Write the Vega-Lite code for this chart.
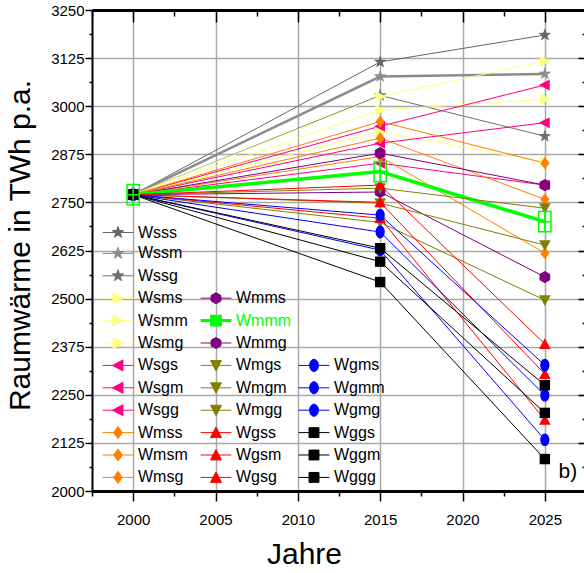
{
  "$schema": "https://vega.github.io/schema/vega-lite/v6.json",
  "width": 494,
  "height": 481,
  "autosize": {"type": "none"},
  "padding": {"left": 92, "top": 10, "right": 0, "bottom": 82},
  "config": {"font": "Liberation Sans", "view": {"stroke": null}, "point": {"filled": true, "opacity": 1, "size": 150, "strokeWidth": 0}},
  "datasets": {
    "main": [
      {"s":"Wsss","j":2000,"v":2770},{"s":"Wsss","j":2015,"v":3115},{"s":"Wsss","j":2025,"v":3185},
      {"s":"Wssm","j":2000,"v":2770},{"s":"Wssm","j":2015,"v":3077},{"s":"Wssm","j":2025,"v":3084},
      {"s":"Wssg","j":2000,"v":2770},{"s":"Wssg","j":2015,"v":3028},{"s":"Wssg","j":2025,"v":2922},
      {"s":"Wsms","j":2000,"v":2770},{"s":"Wsms","j":2015,"v":3025},{"s":"Wsms","j":2025,"v":3117},
      {"s":"Wsmm","j":2000,"v":2770},{"s":"Wsmm","j":2015,"v":2990},{"s":"Wsmm","j":2025,"v":3018},
      {"s":"Wsmg","j":2000,"v":2770},{"s":"Wsmg","j":2015,"v":2934},{"s":"Wsmg","j":2025,"v":2855},
      {"s":"Wsgs","j":2000,"v":2770},{"s":"Wsgs","j":2015,"v":2948},{"s":"Wsgs","j":2025,"v":3055},
      {"s":"Wsgm","j":2000,"v":2770},{"s":"Wsgm","j":2015,"v":2904},{"s":"Wsgm","j":2025,"v":2957},
      {"s":"Wsgg","j":2000,"v":2770},{"s":"Wsgg","j":2015,"v":2852},{"s":"Wsgg","j":2025,"v":2795},
      {"s":"Wmss","j":2000,"v":2770},{"s":"Wmss","j":2015,"v":2960},{"s":"Wmss","j":2025,"v":2852},
      {"s":"Wmsm","j":2000,"v":2770},{"s":"Wmsm","j":2015,"v":2917},{"s":"Wmsm","j":2025,"v":2758},
      {"s":"Wmsg","j":2000,"v":2770},{"s":"Wmsg","j":2015,"v":2869},{"s":"Wmsg","j":2025,"v":2618},
      {"s":"Wmms","j":2000,"v":2770},{"s":"Wmms","j":2015,"v":2878},{"s":"Wmms","j":2025,"v":2795},
      {"s":"Wmmm","j":2000,"v":2770},{"s":"Wmmm","j":2015,"v":2830},{"s":"Wmmm","j":2025,"v":2700},
      {"s":"Wmmg","j":2000,"v":2770},{"s":"Wmmg","j":2015,"v":2777},{"s":"Wmmg","j":2025,"v":2556},
      {"s":"Wmgs","j":2000,"v":2770},{"s":"Wmgs","j":2015,"v":2787},{"s":"Wmgs","j":2025,"v":2735},
      {"s":"Wmgm","j":2000,"v":2770},{"s":"Wmgm","j":2015,"v":2748},{"s":"Wmgm","j":2025,"v":2639},
      {"s":"Wmgg","j":2000,"v":2770},{"s":"Wmgg","j":2015,"v":2698},{"s":"Wmgg","j":2025,"v":2496},
      {"s":"Wgss","j":2000,"v":2770},{"s":"Wgss","j":2015,"v":2795},{"s":"Wgss","j":2025,"v":2382},
      {"s":"Wgsm","j":2000,"v":2770},{"s":"Wgsm","j":2015,"v":2750},{"s":"Wgsm","j":2025,"v":2304},
      {"s":"Wgsg","j":2000,"v":2770},{"s":"Wgsg","j":2015,"v":2709},{"s":"Wgsg","j":2025,"v":2185},
      {"s":"Wgms","j":2000,"v":2770},{"s":"Wgms","j":2015,"v":2717},{"s":"Wgms","j":2025,"v":2327},
      {"s":"Wgmm","j":2000,"v":2770},{"s":"Wgmm","j":2015,"v":2673},{"s":"Wgmm","j":2025,"v":2249},
      {"s":"Wgmg","j":2000,"v":2770},{"s":"Wgmg","j":2015,"v":2626},{"s":"Wgmg","j":2025,"v":2133},
      {"s":"Wggs","j":2000,"v":2770},{"s":"Wggs","j":2015,"v":2631},{"s":"Wggs","j":2025,"v":2275},
      {"s":"Wggm","j":2000,"v":2770},{"s":"Wggm","j":2015,"v":2596},{"s":"Wggm","j":2025,"v":2203},
      {"s":"Wggg","j":2000,"v":2770},{"s":"Wggg","j":2015,"v":2543},{"s":"Wggg","j":2025,"v":2083}
    ],
    "note": [{"t":"b)","j":2026.4,"v":2049}]
  },
  "data": {"name": "main"},
  "resolve": {"axis": {"x": "independent", "y": "independent"}},
  "layer": [
    {
      "mark": {"type": "line"},
      "encoding": {
        "x": {"field": "j", "type": "quantitative",
          "scale": {"domain": [1997.5, 2027.5], "nice": false, "zero": false},
          "axis": {"orient": "bottom", "title": "Jahre", "titleFontSize": 30, "titleFontWeight": "normal", "titleColor": "black",
            "titleX": 212, "titleY": 72, "titleBaseline": "alphabetic", "titleAlign": "center",
            "values": [1997.5,2000,2002.5,2005,2007.5,2010,2012.5,2015,2017.5,2020,2022.5,2025,2027.5],
            "format": "d", "labelExpr": "datum.value % 5 === 0 ? datum.label : ''",
            "labelFontSize": 15, "labelColor": "black", "labelPadding": 11, "labelFlush": false, "labelOverlap": false,
            "tickSize": {"condition": {"test": "datum.value % 5 === 0", "value": 10}, "value": 5},
            "tickColor": "black", "tickWidth": 1.5,
            "domainColor": "black", "domainWidth": 3,
            "grid": true, "gridColor": "#a8a8a8", "gridWidth": 1.5,
            "gridOpacity": {"condition": {"test": "datum.value % 5 === 0 && datum.value > 1998 && datum.value < 2027", "value": 1}, "value": 0}}},
        "y": {"field": "v", "type": "quantitative",
          "scale": {"domain": [2000, 3250], "nice": false, "zero": false},
          "axis": {"orient": "left", "title": "Raumwärme in TWh p.a.", "titleFontSize": 30, "titleFontWeight": "normal", "titleColor": "black",
            "titleX": -72, "titleY": 235, "titleBaseline": "middle", "titleAlign": "center", "titleAngle": -90,
            "values": [2000,2062.5,2125,2187.5,2250,2312.5,2375,2437.5,2500,2562.5,2625,2687.5,2750,2812.5,2875,2937.5,3000,3062.5,3125,3187.5,3250],
            "format": "d", "labelExpr": "(datum.value - 2000) % 125 === 0 ? datum.label : ''",
            "labelFontSize": 15, "labelColor": "black", "labelPadding": 1, "labelFlush": false, "labelOverlap": false,
            "tickSize": {"condition": {"test": "(datum.value - 2000) % 125 === 0", "value": 7}, "value": 3},
            "tickColor": "black", "tickWidth": 1.5,
            "domainColor": "black", "domainWidth": 2,
            "grid": true, "gridColor": "#a8a8a8", "gridWidth": 1.5,
            "gridOpacity": {"condition": {"test": "(datum.value - 2000) % 125 === 0 && datum.value > 2001 && datum.value < 3249", "value": 1}, "value": 0}}},
        "detail": {"field": "s"},
        "color": {"field": "s", "type": "nominal",
          "scale": {
            "domain": ["Wsss","Wssm","Wssg","Wsms","Wsmm","Wsmg","Wsgs","Wsgm","Wsgg","Wmss","Wmsm","Wmsg","_1","_2","_3","Wmms","Wmmm","Wmmg","Wmgs","Wmgm","Wmgg","Wgss","Wgsm","Wgsg","_4","_5","_6","_7","_8","_9","Wgms","Wgmm","Wgmg","Wggs","Wggm","Wggg"],
            "range": ["#666666","#8c8c8c","#707070","#ffff80","#ffff80","#ffff80","#ff0080","#ff0080","#ff0080","#ff8000","#ff8000","#ff8000","transparent","transparent","transparent","#800080","#00ff00","#800080","#808000","#808000","#808000","#ff0000","#ff0000","#ff0000","transparent","transparent","transparent","transparent","transparent","transparent","#0000ff","#0000ff","#0000ff","#000000","#000000","#000000"]},
          "legend": {
            "orient": "none", "legendX": 18, "legendY": 213, "title": null, "columns": 3, "gridAlign": "all",
            "symbolSize": 484, "symbolLimit": 0, "labelFont": "Liberation Sans", "labelFontSize": 16, "labelOffset": 12,
            "rowPadding": 0.4, "columnPadding": 0, "padding": 0, "labelLimit": 200,
            "labelExpr": "substring(datum.label, 0, 1) === '_' ? '' : datum.label",
            "encode": {
              "symbols": {"update": {
                "shape": {"signal": "datum.value === 'Wmmm' ? 'M-1.4,0H1.4M-0.4,-0.4H0.4V0.4H-0.4Z' : (({'Wss':'M-1.4,0H1.4M0,-0.55L0.13,-0.18L0.52,-0.17L0.21,0.07L0.32,0.44L0,0.22L-0.32,0.44L-0.21,0.07L-0.52,-0.17L-0.13,-0.18Z','Wsm':'M-1.4,0H1.4M0.5,0L-0.45,-0.5L-0.45,0.5Z','Wsg':'M-1.4,0H1.4M-0.5,0L0.45,-0.5L0.45,0.5Z','Wms':'M-1.4,0H1.4M0,-0.55L0.4,0L0,0.55L-0.4,0Z','Wmm':'M-1.4,0H1.4M0,-0.5L0.45,-0.25L0.45,0.25L0,0.5L-0.45,0.25L-0.45,-0.25Z','Wmg':'M-1.4,0H1.4M-0.5,-0.45L0.5,-0.45L0,0.5Z','Wgs':'M-1.4,0H1.4M-0.5,0.45L0.5,0.45L0,-0.5Z','Wgm':'M-1.4,0H1.4M0,-0.55A0.4,0.55 0 1,1 0,0.55A0.4,0.55 0 1,1 0,-0.55Z','Wgg':'M-1.4,0H1.4M-0.45,-0.45H0.45V0.45H-0.45Z'})[substring(datum.value, 0, 3)] || 'M-1.4,0H1.4')"},
                "fill": {"signal": "datum.value === 'Wmmm' ? 'transparent' : scale('color', datum.value)"},
                "stroke": {"signal": "scale('color', datum.value)"},
                "strokeWidth": {"signal": "datum.value === 'Wmmm' ? 3 : 1"},
                "opacity": {"value": 1}
              }},
              "labels": {"update": {"fill": {"signal": "datum.value === 'Wmmm' ? '#00ff00' : 'black'"}}}
            }
          }},
        "strokeWidth": {"condition": [{"test": "datum.s === 'Wmmm'", "value": 3.5}, {"test": "datum.s === 'Wssm'", "value": 2.5}], "value": 1}
      }
    },
    {
      "transform": [{"filter": "substring(datum.s, 0, 3) === 'Wss'"}],
      "mark": {"type": "point", "shape": "M0,-1.1L0.26,-0.36L1.05,-0.34L0.42,0.14L0.65,0.89L0,0.44L-0.65,0.89L-0.42,0.14L-1.05,-0.34L-0.26,-0.36Z"},
      "encoding": {
        "x": {"field": "j", "type": "quantitative",
          "axis": {"orient": "top", "title": null, "labels": false, "grid": false,
            "values": [1997.5,2000,2002.5,2005,2007.5,2010,2012.5,2015,2017.5,2020,2022.5,2025,2027.5],
            "tickSize": {"condition": {"test": "datum.value % 5 === 0", "value": -12}, "value": -6},
            "tickColor": "black", "tickWidth": 1.5, "domainColor": "black", "domainWidth": 3}},
        "y": {"field": "v", "type": "quantitative",
          "axis": {"orient": "right", "title": null, "labels": false, "grid": false,
            "values": [2000,2062.5,2125,2187.5,2250,2312.5,2375,2437.5,2500,2562.5,2625,2687.5,2750,2812.5,2875,2937.5,3000,3062.5,3125,3187.5,3250],
            "tickSize": {"condition": {"test": "(datum.value - 2000) % 125 === 0", "value": -8}, "value": -4},
            "tickColor": "black", "tickWidth": 1.5, "domainColor": "black", "domainWidth": 2}},
        "color": {"field": "s", "type": "nominal", "legend": null}
      }
    },
    {
      "transform": [{"filter": "substring(datum.s, 0, 3) === 'Wsm'"}],
      "mark": {"type": "point", "shape": "M1,0L-0.8,-0.9L-0.8,0.9Z"},
      "encoding": {"x": {"field": "j", "type": "quantitative", "axis": null}, "y": {"field": "v", "type": "quantitative", "axis": null}, "color": {"field": "s", "type": "nominal", "legend": null}}
    },
    {
      "transform": [{"filter": "substring(datum.s, 0, 3) === 'Wsg'"}],
      "mark": {"type": "point", "shape": "M-1,0L0.8,-0.9L0.8,0.9Z"},
      "encoding": {"x": {"field": "j", "type": "quantitative", "axis": null}, "y": {"field": "v", "type": "quantitative", "axis": null}, "color": {"field": "s", "type": "nominal", "legend": null}}
    },
    {
      "transform": [{"filter": "substring(datum.s, 0, 3) === 'Wms'"}],
      "mark": {"type": "point", "shape": "M0,-1L0.75,0L0,1L-0.75,0Z"},
      "encoding": {"x": {"field": "j", "type": "quantitative", "axis": null}, "y": {"field": "v", "type": "quantitative", "axis": null}, "color": {"field": "s", "type": "nominal", "legend": null}}
    },
    {
      "transform": [{"filter": "datum.s === 'Wmms' || datum.s === 'Wmmg'"}],
      "mark": {"type": "point", "shape": "M0,-1L0.87,-0.5L0.87,0.5L0,1L-0.87,0.5L-0.87,-0.5Z"},
      "encoding": {"x": {"field": "j", "type": "quantitative", "axis": null}, "y": {"field": "v", "type": "quantitative", "axis": null}, "color": {"field": "s", "type": "nominal", "legend": null}}
    },
    {
      "transform": [{"filter": "substring(datum.s, 0, 3) === 'Wmg'"}],
      "mark": {"type": "point", "shape": "M-0.95,-0.8L0.95,-0.8L0,0.95Z"},
      "encoding": {"x": {"field": "j", "type": "quantitative", "axis": null}, "y": {"field": "v", "type": "quantitative", "axis": null}, "color": {"field": "s", "type": "nominal", "legend": null}}
    },
    {
      "transform": [{"filter": "substring(datum.s, 0, 3) === 'Wgs'"}],
      "mark": {"type": "point", "shape": "M-0.95,0.8L0.95,0.8L0,-0.95Z"},
      "encoding": {"x": {"field": "j", "type": "quantitative", "axis": null}, "y": {"field": "v", "type": "quantitative", "axis": null}, "color": {"field": "s", "type": "nominal", "legend": null}}
    },
    {
      "transform": [{"filter": "substring(datum.s, 0, 3) === 'Wgm'"}],
      "mark": {"type": "point", "shape": "M0,-1.05A0.75,1.05 0 1,1 0,1.05A0.75,1.05 0 1,1 0,-1.05Z"},
      "encoding": {"x": {"field": "j", "type": "quantitative", "axis": null}, "y": {"field": "v", "type": "quantitative", "axis": null}, "color": {"field": "s", "type": "nominal", "legend": null}}
    },
    {
      "transform": [{"filter": "substring(datum.s, 0, 3) === 'Wgg'"}],
      "mark": {"type": "point", "shape": "M-0.85,-0.85H0.85V0.85H-0.85Z"},
      "encoding": {"x": {"field": "j", "type": "quantitative", "axis": null}, "y": {"field": "v", "type": "quantitative", "axis": null}, "color": {"field": "s", "type": "nominal", "legend": null}}
    },
    {
      "transform": [{"filter": "datum.s === 'Wmmm'"}],
      "mark": {"type": "point", "filled": false, "strokeWidth": 1.5, "shape": "M-1,-1.65H1V1.65H-1ZM-1,0H1M0,-1.65V1.65"},
      "encoding": {"x": {"field": "j", "type": "quantitative", "axis": null}, "y": {"field": "v", "type": "quantitative", "axis": null}, "color": {"field": "s", "type": "nominal", "legend": null}}
    },
    {
      "data": {"name": "note"},
      "mark": {"type": "text", "fontSize": 21, "font": "Liberation Sans", "align": "center", "baseline": "middle", "color": "black"},
      "encoding": {
        "x": {"field": "j", "type": "quantitative", "axis": null},
        "y": {"field": "v", "type": "quantitative", "axis": null},
        "text": {"field": "t"}
      }
    }
  ]
}
